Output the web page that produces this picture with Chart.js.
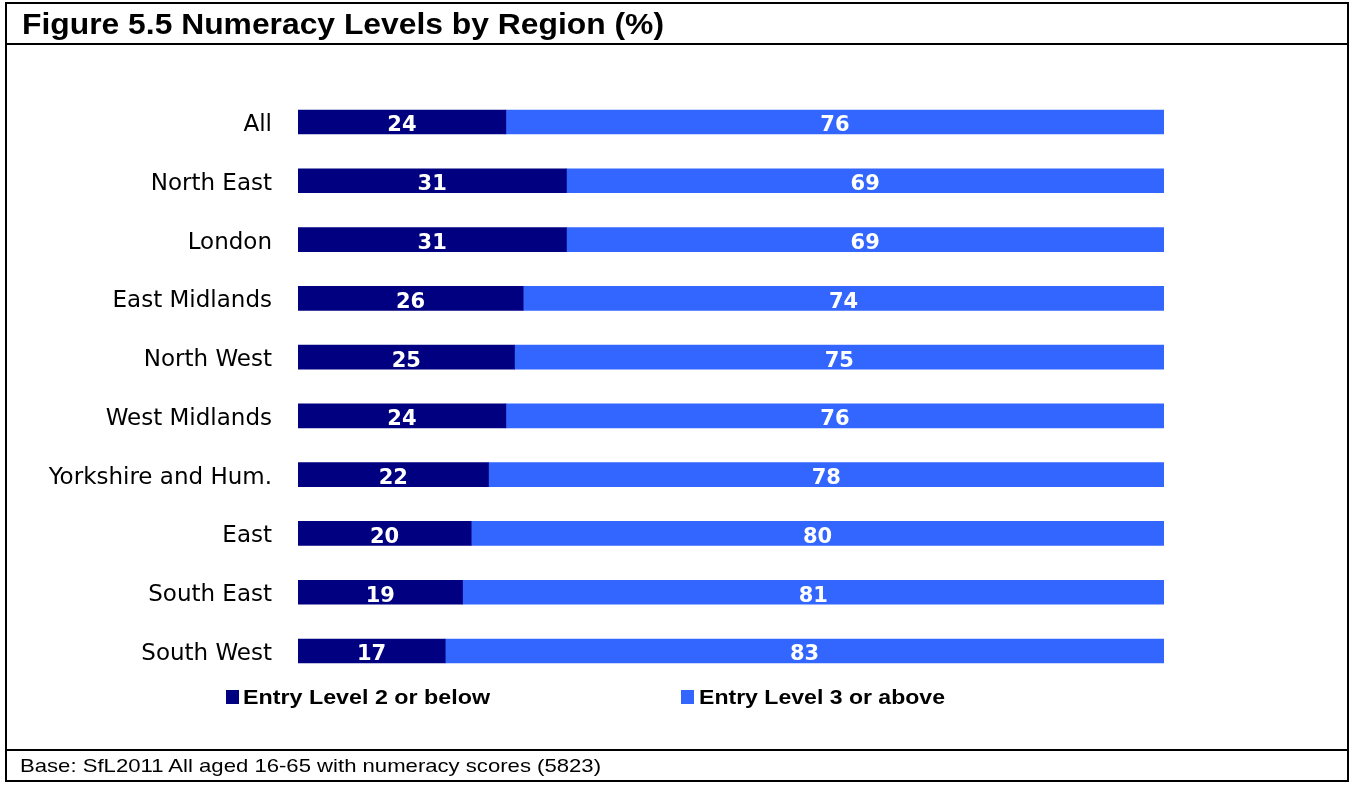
<!DOCTYPE html>
<html>
<head>
<meta charset="utf-8">
<script src="https://cdn.jsdelivr.net/npm/chart.js@4"></script>
<style>
  html, body { margin: 0; padding: 0; background: #fff; }
  #wrap { position: relative; width: 1351px; height: 787px; overflow: hidden; }
  #c { position: absolute; left: 0; top: 0; }
  .ln { position: absolute; background: #000; }
  .fit { position: absolute; white-space: nowrap; transform-origin: 0 0; color: #000; font-family: "Liberation Sans", Arial, sans-serif; }
  #title { left: 22px; top: 7px; font-weight: bold; font-size: 30px; }
  #foot { left: 20px; top: 755px; font-size: 19px; }
  .leg { top: 685px; font-weight: bold; font-size: 21px; }
  .sw { position: absolute; top: 690px; width: 13px; height: 14px; }
</style>
</head>
<body>
<div id="wrap">
  <canvas id="c" width="1351" height="787"></canvas>
  <div class="ln" style="left:5px;top:2px;width:1344px;height:2px;"></div>
  <div class="ln" style="left:5px;top:43px;width:1344px;height:2px;"></div>
  <div class="ln" style="left:5px;top:749px;width:1344px;height:2px;"></div>
  <div class="ln" style="left:5px;top:780px;width:1344px;height:2px;"></div>
  <div class="ln" style="left:5px;top:2px;width:2px;height:780px;"></div>
  <div class="ln" style="left:1347px;top:2px;width:2px;height:780px;"></div>
  <div id="title" class="fit" data-w="642">Figure 5.5 Numeracy Levels by Region (%)</div>
  <div id="foot" class="fit" data-w="581">Base: SfL2011 All aged 16-65 with numeracy scores (5823)</div>
  <div class="sw" style="left:226px;background:#000080"></div>
  <div id="leg1" class="fit leg" style="left:243px;" data-w="247"></div>
  <div class="sw" style="left:681px;background:#3366FF"></div>
  <div id="leg2" class="fit leg" style="left:699px;" data-w="246"></div>
</div>
<script>
const categories = ["All", "North East", "London", "East Midlands", "North West", "West Midlands", "Yorkshire and Hum.", "East", "South East", "South West"];
const entryLevel2OrBelow = [24, 31, 31, 26, 25, 24, 22, 20, 19, 17];
const entryLevel3OrAbove = [76, 69, 69, 74, 75, 76, 78, 80, 81, 83];
const seriesNames = ["Entry Level 2 or below", "Entry Level 3 or above"];

document.getElementById('leg1').textContent = seriesNames[0];
document.getElementById('leg2').textContent = seriesNames[1];
document.querySelectorAll('.fit').forEach(el => {
  const target = parseFloat(el.dataset.w);
  const w = el.getBoundingClientRect().width;
  if (w > 0) el.style.transform = 'scaleX(' + (target / w) + ')';
});

const valueLabels = {
  id: 'valueLabels',
  afterDatasetsDraw(chart) {
    const ctx = chart.ctx;
    ctx.save();
    ctx.fillStyle = '#fff';
    ctx.font = 'bold 21px "DejaVu Sans", Verdana, sans-serif';
    ctx.textAlign = 'center';
    ctx.textBaseline = 'middle';
    chart.data.datasets.forEach((ds, di) => {
      const meta = chart.getDatasetMeta(di);
      meta.data.forEach((bar, i) => {
        const p = bar.getProps(['x', 'y', 'base'], true);
        const cx = (p.x + p.base) / 2;
        ctx.fillText(String(ds.data[i]), cx, p.y + 4);
      });
    });
    ctx.restore();
  }
};

new Chart(document.getElementById('c'), {
  type: 'bar',
  data: {
    labels: categories,
    datasets: [
      { label: seriesNames[0], data: entryLevel2OrBelow, backgroundColor: '#000080', borderWidth: 0, barThickness: 24 },
      { label: seriesNames[1], data: entryLevel3OrAbove, backgroundColor: '#3366FF', borderWidth: 0, barThickness: 24 }
    ]
  },
  options: {
    responsive: false,
    animation: false,
    indexAxis: 'y',
    layout: { padding: { left: 0, right: 187, top: 92.6, bottom: 106.6 } },
    plugins: { legend: { display: false }, tooltip: { enabled: false } },
    scales: {
      x: { stacked: true, min: 0, max: 100, display: false },
      y: {
        stacked: true,
        grid: { display: false, drawTicks: false },
        border: { display: false },
        afterFit(scale) { scale.width = 298; },
        ticks: { color: '#000', padding: 26, labelOffset: 3, font: { family: '"DejaVu Sans", Tahoma, sans-serif', size: 23 } }
      }
    }
  },
  plugins: [valueLabels]
});
</script>
</body>
</html>
